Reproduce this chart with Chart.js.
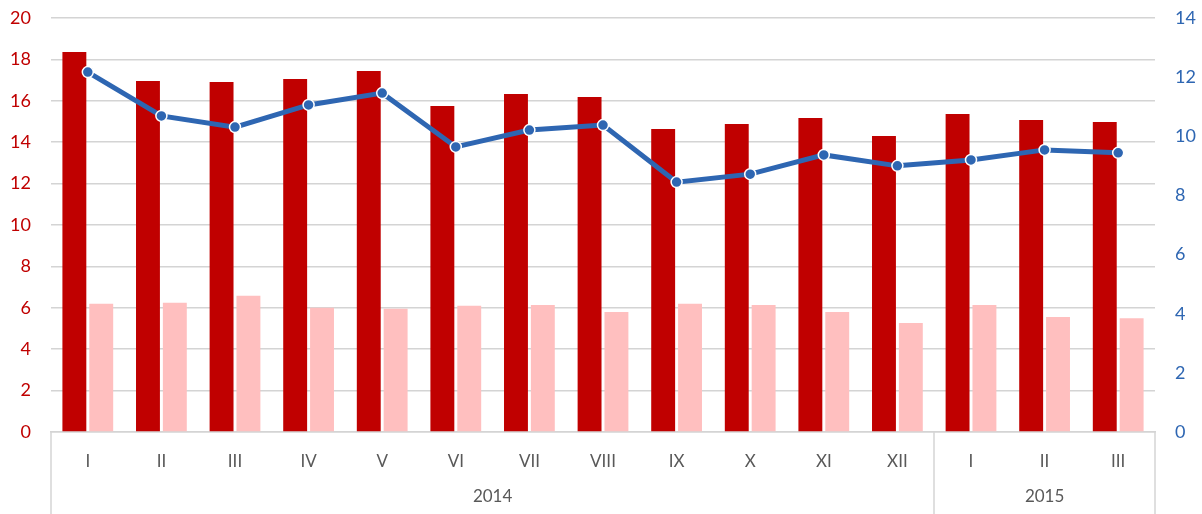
<!DOCTYPE html>
<html>

<head>
  <title>Monthly chart</title>
  <script src="https://cdn.jsdelivr.net/npm/chart.js"></script>
  <style>
    html, body { margin: 0; padding: 0; background: #fff; }
    #wrap { width: 1202px; height: 514px; }
  </style>
</head>

<body>
  <div id="wrap"><canvas id="main-chart"></canvas></div>

  <script>
    // categories
    const months = ['I', 'II', 'III', 'IV', 'V', 'VI', 'VII', 'VIII', 'IX', 'X', 'XI', 'XII', 'I', 'II', 'III'];
    const years = ['2014', '2015'];
    const yearSpans = [12, 3];

    // series
    const darkBars = [18.36, 16.96, 16.91, 17.05, 17.44, 15.75, 16.33, 16.18, 14.64, 14.88, 15.17, 14.3, 15.36, 15.07, 14.98];
    const lightBars = [6.2, 6.24, 6.58, 6.0, 5.95, 6.1, 6.14, 5.8, 6.19, 6.14, 5.8, 5.27, 6.14, 5.56, 5.5];
    const lineValues = [12.17, 10.69, 10.31, 11.06, 11.46, 9.64, 10.21, 10.38, 8.45, 8.72, 9.37, 9.0, 9.2, 9.54, 9.44];

    const fontFamily = 'Lato, "Open Sans", sans-serif';

    // year row under the month labels, with separators
    const yearAxis = {
      id: 'yearAxis',
      afterDraw(chart) {
        const ctx = chart.ctx;
        const area = chart.chartArea;
        const x = chart.scales.x;
        const half = (x.getPixelForValue(1) - x.getPixelForValue(0)) / 2;
        const bottom = chart.height;
        ctx.save();
        ctx.strokeStyle = '#d4d4d4';
        ctx.lineWidth = 1.5;
        ctx.fillStyle = '#595959';
        ctx.font = '17px ' + fontFamily;
        ctx.textAlign = 'center';
        ctx.textBaseline = 'middle';
        let start = 0;
        const edges = [area.left];
        years.forEach((year, i) => {
          const end = start + yearSpans[i] - 1;
          const left = x.getPixelForValue(start) - half;
          const right = x.getPixelForValue(end) + half;
          edges.push(right);
          ctx.fillText(year, (left + right) / 2, 497);
          start = end + 1;
        });
        edges.forEach(px => {
          const p = Math.round(px);
          ctx.beginPath();
          ctx.moveTo(p, area.bottom);
          ctx.lineTo(p, bottom);
          ctx.stroke();
        });
        ctx.restore();
      }
    };

    // fixed axis sizes so the plot box lands where we want it
    function fixWidth(w) {
      return scale => {
        scale.width = w;
        scale.paddingTop = 0;
        scale.paddingBottom = 0;
      };
    }

    const ctx1 = document.getElementById('main-chart').getContext('2d');

    const mainChart = new Chart(ctx1, {
      data: {
        labels: months,
        datasets: [{
          type: 'line',
          data: lineValues,
          yAxisID: 'y2',
          borderColor: '#2e66b2',
          borderWidth: 5,
          pointRadius: 5.5,
          pointBackgroundColor: '#2e66b2',
          pointBorderColor: '#ffffff',
          pointBorderWidth: 1.5,
          tension: 0,
          order: 0
        }, {
          type: 'bar',
          data: darkBars,
          yAxisID: 'y',
          backgroundColor: '#c00000',
          categoryPercentage: 0.73,
          barPercentage: 0.89,
          order: 1
        }, {
          type: 'bar',
          data: lightBars,
          yAxisID: 'y',
          backgroundColor: '#ffbfbf',
          categoryPercentage: 0.73,
          barPercentage: 0.89,
          order: 1
        }]
      },
      options: {
        responsive: true,
        maintainAspectRatio: false,
        animation: false,
        layout: {
          padding: { top: 18, bottom: 0, left: 0, right: 0 }
        },
        plugins: {
          legend: { display: false },
          tooltip: { enabled: false }
        },
        scales: {
          x: {
            grid: { display: false },
            border: { display: true, color: '#d4d4d4', width: 1.5 },
            ticks: {
              color: '#595959',
              font: { family: fontFamily, size: 17 },
              padding: 11,
              maxRotation: 0,
              autoSkip: false
            },
            afterFit(scale) {
              scale.height = 82;
              scale.paddingLeft = 0;
              scale.paddingRight = 0;
            }
          },
          y: {
            position: 'left',
            min: 0,
            max: 20,
            ticks: {
              stepSize: 2,
              color: '#c00000',
              font: { family: fontFamily, size: 18 },
              padding: 20
            },
            grid: { color: '#d4d4d4', lineWidth: 1.5, drawTicks: false },
            border: { display: false },
            afterFit: fixWidth(51)
          },
          y2: {
            position: 'right',
            min: 0,
            max: 14,
            ticks: {
              stepSize: 2,
              color: '#2e66b2',
              font: { family: fontFamily, size: 18 },
              padding: 20
            },
            grid: { display: false, drawTicks: false },
            border: { display: false },
            afterFit: fixWidth(47)
          }
        }
      },
      plugins: [yearAxis]
    });
  </script>
</body>

</html>
